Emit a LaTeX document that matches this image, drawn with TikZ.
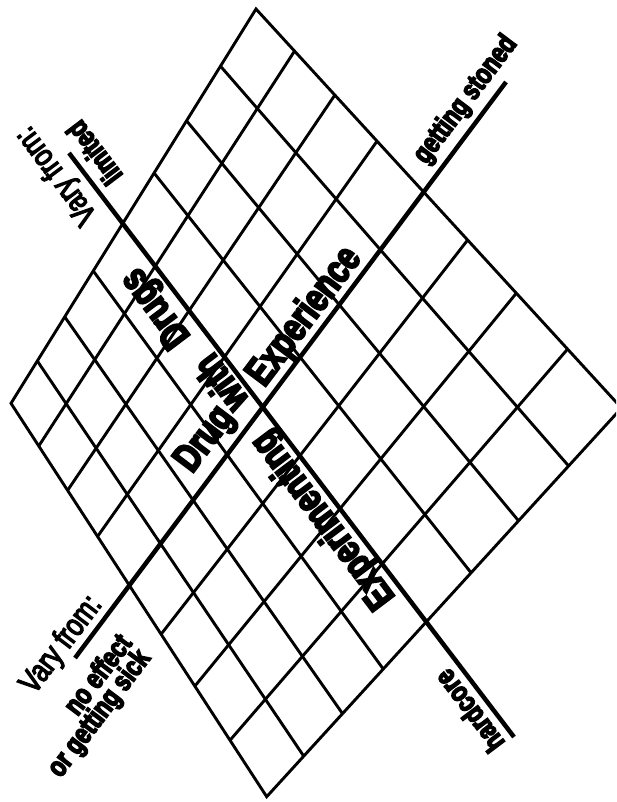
\documentclass[tikz,border=0pt]{standalone}
\usepackage{fontspec}
\newfontfamily\heavyfont{Liberation Sans}[UprightFont=* Bold, FakeStretch=0.76, FakeBold=5]
\newfontfamily\mediumfont{Liberation Sans}[FakeStretch=0.78, FakeBold=4]
\usetikzlibrary{calc}
\newcommand\gridmap[2]{%
  \pgfmathsetmacro\gden{1-0.17477*(#1)+0.18691*(#2)}%
  \pgfmathsetmacro\gpx{(256.88*(#1)-242.94*(#2)+256)/\gden}%
  \pgfmathsetmacro\gpy{(327.69*(#1)+469.68*(#2)+9)/\gden}%
}
\begin{document}
\begin{tikzpicture}[x=1pt,y=-1pt,
  gridline/.style={line width=2.9pt},
  axisline/.style={line width=4.5pt},
  bigtext/.style={font=\heavyfont\fontsize{40}{40}\selectfont, inner sep=0pt},
  smalltext/.style={font=\heavyfont\fontsize{29}{29}\selectfont, inner sep=0pt},
  varytext/.style={font=\mediumfont\fontsize{32}{32}\selectfont, inner sep=0pt},
  upright/.style={rotate=53},
  flipped/.style={rotate=127}]
\useasboundingbox (0,0) rectangle (616,802);
\clip (0,0) rectangle (616,802);
% corners of the grid
\coordinate (T) at (256,9);
\coordinate (R) at (621.5,408);
\coordinate (B) at (266.7,796.7);
\coordinate (L) at (11,403.3);
\draw[gridline, line join=miter] (T) -- (R) -- (B) -- (L) -- cycle;
% interior grid lines (perspective division)
\foreach \k in {1,2,3,5,6,7} {
  \pgfmathsetmacro\gridt{\k/8}
  \gridmap{\gridt}{0}\coordinate (ua\k) at (\gpx,\gpy);
  \gridmap{\gridt}{1}\coordinate (ub\k) at (\gpx,\gpy);
  \draw[gridline] (ua\k) -- (ub\k);
  \gridmap{0}{\gridt}\coordinate (va\k) at (\gpx,\gpy);
  \gridmap{1}{\gridt}\coordinate (vb\k) at (\gpx,\gpy);
  \draw[gridline] (va\k) -- (vb\k);
}
% thick middle axes
\coordinate (limEnd) at (69,153);
\coordinate (hardEnd) at (514,737);
\coordinate (sickEnd) at (75,658);
\coordinate (stonedEnd) at (506,82);
\draw[axisline] (limEnd) -- (hardEnd);
\draw[axisline] (sickEnd) -- (stonedEnd);
% central labels
\node[bigtext, upright] (experience) at (305,317) {Experience};
\node[bigtext, upright] (drug) at (206,440) {Drug};
\node[bigtext, flipped] (with) at (220,384) {with};
\node[bigtext, flipped] (drugs) at (157,307) {Drugs};
\node[bigtext, flipped] (experimenting) at (324,519) {Experimenting};
% end labels
\node[smalltext, upright] (stoned) at (466,100) {getting stoned};
\node[smalltext, flipped] (hardcore) at (469,711) {hardcore};
\node[varytext, flipped] (varytop) at (57,175) {Vary from:};
\node[smalltext, flipped] (limited) at (94,153) {limited};
\node[varytext, upright] (varybot) at (62,645) {Vary from:};
\node[smalltext, upright] (noeffect) at (97,674) {no effect};
\node[smalltext, upright] (sick) at (100,714) {or getting sick};
\end{tikzpicture}
\end{document}
